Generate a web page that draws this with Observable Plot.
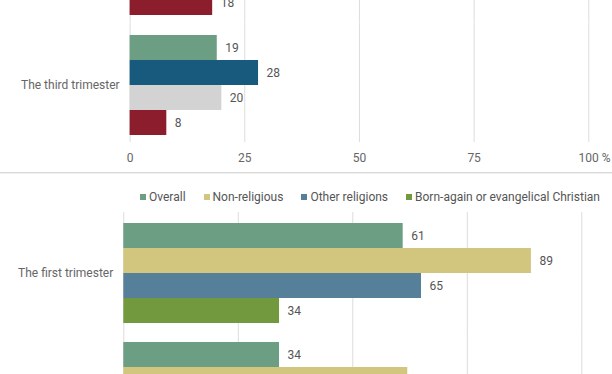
<!DOCTYPE html>
<html>
<head>
<meta charset="utf-8">
<script src="https://cdn.jsdelivr.net/npm/d3@7"></script>
<script src="https://cdn.jsdelivr.net/npm/@observablehq/plot@0.6"></script>
<style>
  html, body { margin: 0; padding: 0; width: 612px; height: 374px; overflow: hidden; background: #fff; font-family: Roboto, sans-serif; }
  #top { position: absolute; left: 0; top: -96px; }
  #sep { position: absolute; left: 0; top: 172px; width: 612px; height: 1px; background: #d9d9d9; box-shadow: 0 1px 0 #efefef; z-index: 2; }
  #legend { position: absolute; left: 140px; top: 190px; width: 472px; z-index: 3; white-space: nowrap; }
  #bottom { position: absolute; left: 0; top: 209.7px; }
  .lg-swatches { font-family: Roboto, sans-serif !important; font-size: 12px !important; color: #555 !important; min-height: 0 !important; margin: 0 !important; flex-wrap: nowrap !important; }
  .lg-swatch { margin-right: 18px !important; white-space: nowrap; }
  .lg-swatch > svg { margin-right: 3px !important; }
</style>
</head>
<body>
<div id="top"></div>
<div id="sep"></div>
<div id="legend"></div>
<div id="bottom"></div>
<script>
// ---------- data ----------
const xTicks = [0, 25, 50, 75, 100];

// Top chart (only the lower part is visible in the reference)
const topTrimesters = ["The second trimester", "The third trimester"];
const topSeries = ["Overall", "Group 2", "Group 3", "Group 4"];
const topColors = ["#6b9e83", "#185a7d", "#d3d3d3", "#8b1d2c"];
const topSecondValues = [null, null, null, 18];
const topThirdValues = [19, 28, 20, 8];

// Bottom chart (only the upper part is visible in the reference)
const bottomTrimesters = ["The first trimester", "The second trimester"];
const bottomSeries = ["Overall", "Non-religious", "Other religions", "Born-again or evangelical Christian"];
const bottomColors = ["#6b9e83", "#d2c57e", "#567f99", "#73993f"];
const bottomFirstValues = [61, 89, 65, 34];
const bottomSecondValues = [34, 62, null, null];

function buildRows(groups, series, valueLists) {
  const rows = [];
  groups.forEach((g, gi) => {
    series.forEach((s, si) => {
      const v = valueLists[gi][si];
      if (v != null) rows.push({trimester: g, series: s, value: v});
    });
  });
  return rows;
}

const topData = buildRows(topTrimesters, topSeries, [topSecondValues, topThirdValues]);
const bottomData = buildRows(bottomTrimesters, bottomSeries, [bottomFirstValues, bottomSecondValues]);

const baseStyle = {background: "transparent", fontFamily: "Roboto, sans-serif", fontSize: "12px", color: "#666", overflow: "visible"};

// ---------- top chart ----------
const topPlot = Plot.plot({
  width: 612,
  height: 272,
  marginTop: 10,
  marginBottom: 40,
  marginLeft: 129.6,
  marginRight: 23.7,
  style: baseStyle,
  x: {domain: [0, 100], axis: null},
  y: {domain: topSeries, padding: 0, axis: null},
  fy: {domain: topTrimesters, paddingInner: 0.1546, paddingOuter: 0, label: null, axis: "left", tickSize: 0, tickPadding: 10.5},
  color: {domain: topSeries, range: topColors},
  marks: [
    Plot.ruleX(xTicks, {x: d => d, stroke: "#dcdcdc", strokeWidth: 1, insetTop: -11.6, insetBottom: -7}),
    Plot.barX(topData, {fy: "trimester", y: "series", x: "value", fill: "series"}),
    Plot.text(topData, {fy: "trimester", y: "series", x: "value", text: d => String(d.value), dx: 8, textAnchor: "start", fill: "#555", fontSize: 12}),
    Plot.axisX(xTicks.slice(0, 4), {tickSize: 0, tickPadding: 18.4, label: null, fill: "#666"}),
    Plot.axisX(xTicks.slice(4), {tickSize: 0, tickPadding: 18.4, label: null, tickFormat: d => d + " %", dx: 5.7, fill: "#666"})
  ]
});
document.getElementById("top").appendChild(topPlot);

// ---------- bottom chart ----------
const legend = Plot.legend({
  color: {domain: bottomSeries, range: bottomColors},
  legend: "swatches",
  swatchSize: 6,
  className: "lg"
});
document.getElementById("legend").appendChild(legend);

const bottomPlot = Plot.plot({
  width: 612,
  height: 262,
  marginTop: 12,
  marginBottom: 30,
  marginLeft: 123.3,
  marginRight: 30.7,
  style: baseStyle,
  x: {domain: [0, 100], axis: null},
  y: {domain: bottomSeries, padding: 0, axis: null},
  fy: {domain: bottomTrimesters, paddingInner: 0.1546, paddingOuter: 0, label: null, axis: "left", tickSize: 0, tickPadding: 10.5},
  color: {domain: bottomSeries, range: bottomColors},
  marks: [
    Plot.ruleX(xTicks, {x: d => d, stroke: "#dcdcdc", strokeWidth: 1, insetTop: -10, insetBottom: -8.4}),
    Plot.barX(bottomData, {fy: "trimester", y: "series", x: "value", fill: "series"}),
    Plot.text(bottomData, {fy: "trimester", y: "series", x: "value", text: d => String(d.value), dx: 8, textAnchor: "start", fill: "#555", fontSize: 12})
  ]
});
document.getElementById("bottom").appendChild(bottomPlot);
</script>
</body>
</html>
